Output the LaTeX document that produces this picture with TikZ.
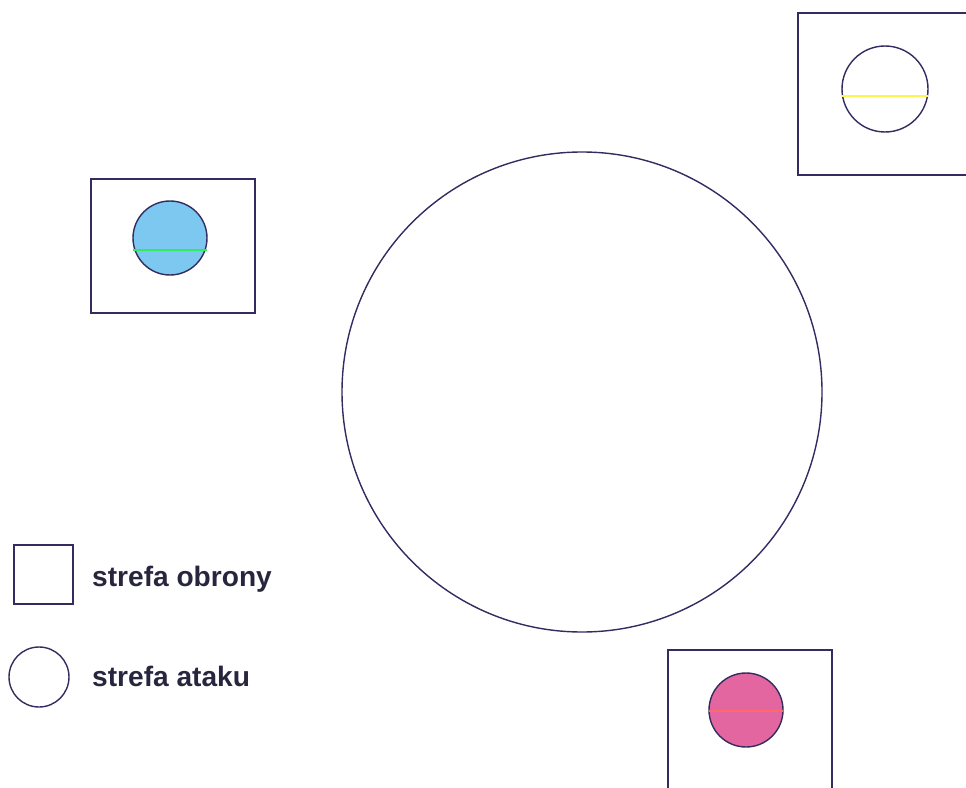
\documentclass[tikz,border=0pt]{standalone}
\usepackage{fontspec}
\setsansfont{Liberation Sans}
\definecolor{zoneline}{RGB}{52,44,96}
\definecolor{legendink}{RGB}{40,38,62}
\definecolor{blueteam}{RGB}{125,200,240}
\definecolor{pinkteam}{RGB}{228,102,160}
\tikzset{
  zone/.style={draw=zoneline,line width=0.8pt},
  mark line/.style={line width=0.8pt},
  legend text/.style={anchor=west,font=\sffamily\bfseries\fontsize{16}{19}\selectfont,text=legendink}
}
\begin{document}
\begin{tikzpicture}[x=0.02cm,y=-0.02cm]
\useasboundingbox (0,0) rectangle (966,787);
% middle field
\draw[zone] (582,392) circle (240);
% defence zones with the attack zone inside
\draw[zone] (798,13) rectangle (990,175);
\draw[zone] (885,89) circle (43);
\draw[mark line,draw={yellow!70}] (842,96) -- (928,96);
\draw[zone] (91,179) rectangle (255,313);
\draw[zone,fill=blueteam] (170,238) circle (37);
\draw[mark line,draw={green!60!blueteam}] (133,250) -- (207,250);
\draw[zone] (668,650) rectangle (832,800);
\draw[zone,fill=pinkteam] (746,710) circle (37);
\draw[mark line,draw={red!45!pink}] (709,711) -- (783,711);
% legend
\draw[zone] (14,545) rectangle (73,604);
\node[legend text] (obrona) at (86,579) {strefa obrony};
\draw[zone] (39,677) circle (30);
\node[legend text] (atak) at (86,676) {strefa ataku};
\end{tikzpicture}
\end{document}
